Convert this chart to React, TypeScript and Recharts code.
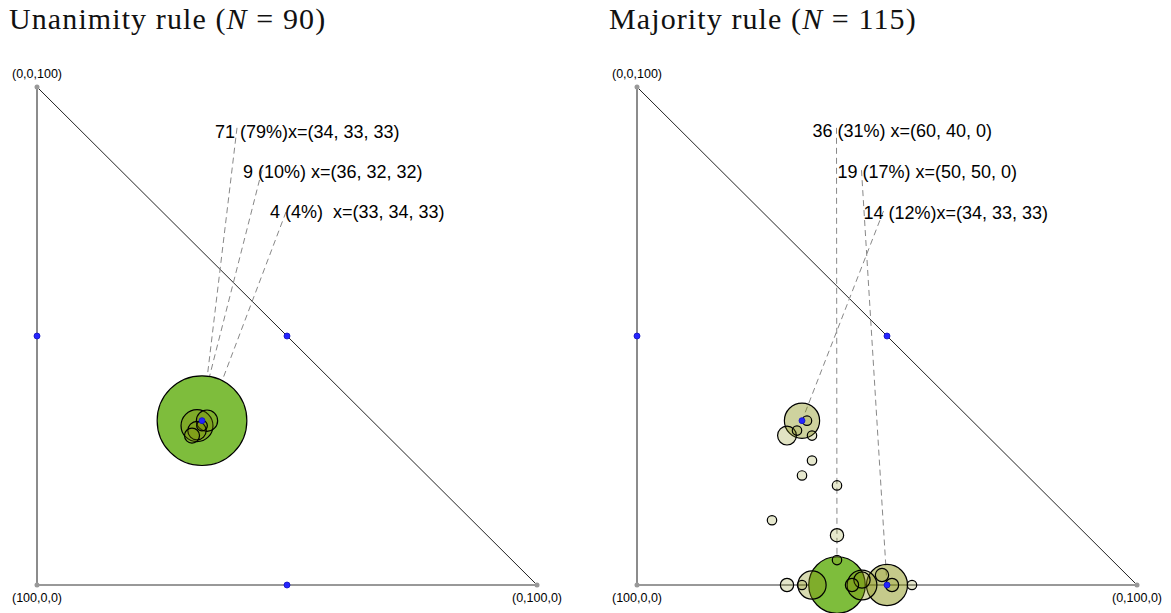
import { ReferenceLine, Scatter, ScatterChart, XAxis, YAxis } from "recharts";

// points are (a, b, c) on the simplex; b runs along the bottom, c up the left side
type Bubble = { a: number; b: number; c: number; n: number };
type Label = { text: string; b: number; c: number; fromB: number; fromC: number; toB: number; toC: number };

const unanimityN = 90;
const unanimityBubbles: Bubble[] = [
  { a: 34, b: 33, c: 33, n: 71 },
  { a: 36, b: 32, c: 32, n: 9 },
  { a: 33, b: 34, c: 33, n: 4 },
  { a: 37, b: 32, c: 31, n: 3 },
  { a: 39, b: 31, c: 30, n: 2 },
  { a: 35, b: 33, c: 32, n: 1 },
];

const majorityN = 115;
const majorityBubbles: Bubble[] = [
  { a: 60, b: 40, c: 0, n: 36 },
  { a: 50, b: 50, c: 0, n: 19 },
  { a: 34, b: 33, c: 33, n: 14 },
  { a: 55, b: 45, c: 0, n: 10 },
  { a: 65, b: 35, c: 0, n: 9 },
  { a: 40, b: 30, c: 30, n: 4 },
  { a: 54, b: 45, c: 1, n: 3 },
  { a: 57, b: 43, c: 0, n: 2 },
  { a: 49, b: 49, c: 2, n: 2 },
  { a: 49, b: 51, c: 0, n: 2 },
  { a: 70, b: 30, c: 0, n: 2 },
  { a: 50, b: 40, c: 10, n: 2 },
  { a: 33, b: 34, c: 33, n: 1 },
  { a: 37, b: 32, c: 31, n: 1 },
  { a: 35, b: 35, c: 30, n: 1 },
  { a: 40, b: 35, c: 25, n: 1 },
  { a: 45, b: 33, c: 22, n: 1 },
  { a: 40, b: 40, c: 20, n: 1 },
  { a: 60, b: 27, c: 13, n: 1 },
  { a: 55, b: 40, c: 5, n: 1 },
  { a: 67, b: 33, c: 0, n: 1 },
  { a: 45, b: 55, c: 0, n: 1 },
];

const unanimityLabels: Label[] = [
  { text: "71 (79%)x=(34, 33, 33)", b: 35.6, c: 89.8, fromB: 40, fromC: 91.8, toB: 33, toC: 33 },
  { text: "9 (10%) x=(36, 32, 32)", b: 41.2, c: 81.7, fromB: 45, fromC: 83.3, toB: 32, toC: 32 },
  { text: "4 (4%)  x=(33, 34, 33)", b: 46.6, c: 73.7, fromB: 49.8, fromC: 74.9, toB: 34, toC: 33 },
];

const majorityLabels: Label[] = [
  { text: "36 (31%) x=(60, 40, 0)", b: 35.1, c: 90.0, fromB: 39.9, fromC: 91.8, toB: 40, toC: 0 },
  { text: "19 (17%) x=(50, 50, 0)", b: 40.1, c: 81.7, fromB: 44.9, fromC: 83.3, toB: 50, toC: 0 },
  { text: "14 (12%)x=(34, 33, 33)", b: 45.3, c: 73.5, fromB: 49.3, fromC: 75.1, toB: 33, toC: 33 },
];

const midpoints = [
  { b: 0, c: 50 },
  { b: 50, c: 50 },
  { b: 50, c: 0 },
  { b: 33, c: 33 },
];

const vertices = [
  { b: 0, c: 100, text: "(0,0,100)" },
  { b: 0, c: 0, text: "(100,0,0)" },
  { b: 100, c: 0, text: "(0,100,0)" },
];

const sans = "'Liberation Sans', Arial, sans-serif";

// big shares get the solid green, the rest a see-through olive that deepens with share
function bubbleStyle(pct: number) {
  if (pct >= 25) return { fill: "rgb(126,189,60)", opacity: 1 };
  return { fill: "rgb(130,140,5)", opacity: Math.min(0.6, 0.18 + 0.017 * pct) };
}

function Panel({
  left,
  width,
  title,
  total,
  bubbles,
  labels,
}: {
  left: number;
  width: number;
  title: string;
  total: number;
  bubbles: Bubble[];
  labels: Label[];
}) {
  const sorted = [...bubbles].sort((p, q) => q.n - p.n);
  return (
    <div style={{ position: "absolute", left, top: 0, width, height: 613 }}>
      <div
        style={{
          position: "absolute",
          left: 9,
          top: 4,
          fontFamily: "'Liberation Serif', 'DejaVu Serif', serif",
          fontSize: 30,
          lineHeight: "30px",
          letterSpacing: 1.1,
          whiteSpace: "pre",
          color: "#111",
        }}
      >
        {title} (<i>N</i> = {total})
      </div>
      <ScatterChart width={width} height={613} margin={{ top: 87, right: width - 537, bottom: 28, left: 37 }}>
        <XAxis type="number" dataKey="b" domain={[0, 100]} hide />
        <YAxis type="number" dataKey="c" domain={[0, 100]} hide />
        <ReferenceLine segment={[{ x: 0, y: 0 }, { x: 0, y: 100 }]} stroke="#666" strokeWidth={1.5} ifOverflow="visible" />
        <ReferenceLine segment={[{ x: 0, y: 0 }, { x: 100, y: 0 }]} stroke="#333" strokeWidth={1} ifOverflow="visible" />
        <ReferenceLine segment={[{ x: 100, y: 0 }, { x: 0, y: 100 }]} stroke="#222" strokeWidth={1} ifOverflow="visible" />
        <Scatter
          data={sorted}
          isAnimationActive={false}
          shape={(p: any) => {
            const pct = (p.payload.n / total) * 100;
            const s = bubbleStyle(pct);
            return (
              <circle
                cx={p.cx}
                cy={p.cy}
                r={5.05 * Math.sqrt(pct)}
                fill={s.fill}
                fillOpacity={s.opacity}
                stroke="#000"
                strokeWidth={1.2}
              />
            );
          }}
        />
        {labels.map((l) => (
          <ReferenceLine
            key={l.text}
            segment={[{ x: l.fromB, y: l.fromC }, { x: l.toB, y: l.toC }]}
            stroke="#888"
            strokeDasharray="6 4"
            strokeWidth={1}
            ifOverflow="visible"
          />
        ))}
        <Scatter
          data={labels}
          isAnimationActive={false}
          shape={(p: any) => (
            <text x={p.cx} y={p.cy} fontFamily={sans} fontSize={18} fill="#000" style={{ whiteSpace: "pre" }}>
              {p.payload.text}
            </text>
          )}
        />
        <Scatter
          data={midpoints}
          isAnimationActive={false}
          shape={(p: any) => <circle cx={p.cx} cy={p.cy} r={3} fill="#2424ff" stroke="#1010c0" strokeWidth={0.8} />}
        />
        <Scatter
          data={vertices}
          isAnimationActive={false}
          shape={(p: any) => (
            <g>
              <circle cx={p.cx} cy={p.cy} r={2.5} fill="#999" />
              <text
                x={p.cx}
                y={p.payload.c === 100 ? p.cy - 9 : p.cy + 17}
                textAnchor="middle"
                fontFamily={sans}
                fontSize={12.5}
                fill="#000"
              >
                {p.payload.text}
              </text>
            </g>
          )}
        />
      </ScatterChart>
    </div>
  );
}

export default function App() {
  return (
    <div style={{ position: "absolute", left: 0, top: 0, width: 1171, height: 613, background: "#fff" }}>
      <Panel left={0} width={580} title="Unanimity rule" total={unanimityN} bubbles={unanimityBubbles} labels={unanimityLabels} />
      <Panel left={600} width={571} title="Majority rule" total={majorityN} bubbles={majorityBubbles} labels={majorityLabels} />
    </div>
  );
}
